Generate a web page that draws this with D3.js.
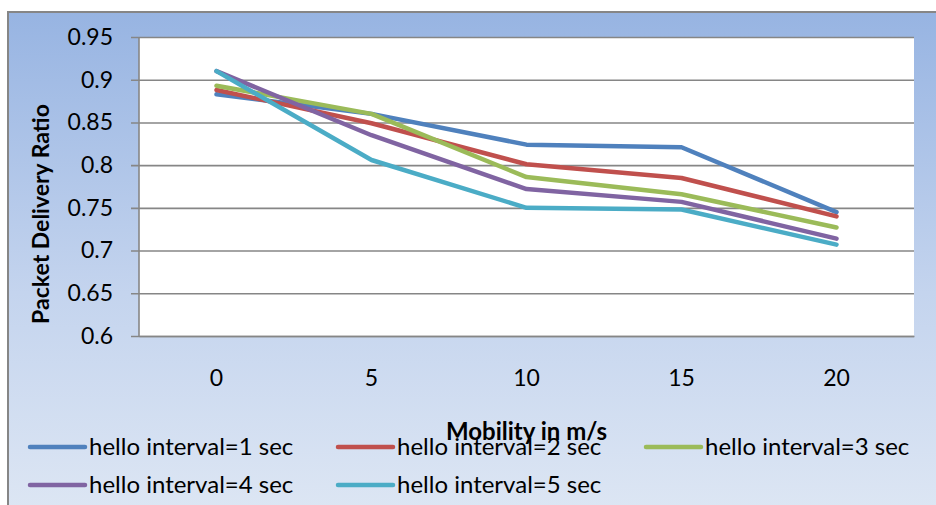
<!DOCTYPE html>
<html>
<head>
<meta charset="utf-8">
<script src="https://cdn.jsdelivr.net/npm/d3@7/dist/d3.min.js"></script>
<style>
  html, body { margin: 0; padding: 0; background: #ffffff; }
  svg { display: block; }
</style>
</head>
<body>
<svg id="chart" width="936" height="505"></svg>
<script>
// Mobility categories (m/s)
const categories = ["0", "5", "10", "15", "20"];

// Packet delivery ratio for each hello interval
const interval1 = [0.883, 0.860, 0.824, 0.821, 0.745];
const interval2 = [0.888, 0.849, 0.801, 0.785, 0.740];
const interval3 = [0.893, 0.860, 0.786, 0.766, 0.727];
const interval4 = [0.910, 0.835, 0.772, 0.757, 0.714];
const interval5 = [0.910, 0.806, 0.750, 0.748, 0.707];

const seriesNames = [
  "hello interval=1 sec",
  "hello interval=2 sec",
  "hello interval=3 sec",
  "hello interval=4 sec",
  "hello interval=5 sec"
];
const seriesColors = ["#4F81BD", "#C0504D", "#9BBB59", "#8064A2", "#4BACC6"];

// Y axis tick values
const yTicks = [0.6, 0.65, 0.7, 0.75, 0.8, 0.85, 0.9, 0.95];

const series = [interval1, interval2, interval3, interval4, interval5].map((vals, i) => ({
  name: seriesNames[i],
  color: seriesColors[i],
  values: vals
}));

const svg = d3.select("#chart");
const font = "Lato, 'Open Sans', sans-serif";

// Chart background with vertical gradient
const defs = svg.append("defs");
const grad = defs.append("linearGradient")
  .attr("id", "bg").attr("x1", 0).attr("y1", 0).attr("x2", 0).attr("y2", 1);
grad.append("stop").attr("offset", "0%").attr("stop-color", "#97B4E2");
grad.append("stop").attr("offset", "55%").attr("stop-color", "#C4D4EE");
grad.append("stop").attr("offset", "100%").attr("stop-color", "#DEE7F4");

svg.append("rect")
  .attr("x", 8).attr("y", 12)
  .attr("width", 940).attr("height", 510)
  .attr("fill", "url(#bg)")
  .attr("stroke", "#868686").attr("stroke-width", 2);

// Plot area
const plot = { left: 139, right: 914, top: 37, bottom: 336 };

const x = d3.scaleBand()
  .domain(categories)
  .range([plot.left, plot.right]);

const y = d3.scaleLinear()
  .domain([0.6, 0.95])
  .range([plot.bottom, plot.top]);

svg.append("rect")
  .attr("x", plot.left).attr("y", plot.top)
  .attr("width", plot.right - plot.left)
  .attr("height", plot.bottom - plot.top)
  .attr("fill", "#ffffff");

// Gridlines + left ticks via axis
const yAxis = d3.axisLeft(y)
  .tickValues(yTicks)
  .tickSize(-(plot.right - plot.left))
  .tickPadding(26)
  .tickFormat(d => d3.format("")(+d.toFixed(2)));

const yg = svg.append("g")
  .attr("transform", `translate(${plot.left},0)`)
  .call(yAxis);
yg.select(".domain").remove();
yg.selectAll(".tick line")
  .attr("x1", -8)
  .attr("stroke", "#868686").attr("stroke-width", 1.6);
yg.selectAll(".tick text")
  .attr("font-family", font).attr("font-size", 23)
  .attr("fill", "#000");

// Left axis line
svg.append("line")
  .attr("x1", plot.left).attr("x2", plot.left)
  .attr("y1", plot.top).attr("y2", plot.bottom)
  .attr("stroke", "#868686").attr("stroke-width", 1.6);

// Category axis
const xAxis = d3.axisBottom(x).tickSize(0).tickPadding(34);
const xg = svg.append("g")
  .attr("transform", `translate(0,${plot.bottom})`)
  .call(xAxis);
xg.select(".domain")
  .attr("stroke", "#868686").attr("stroke-width", 1.6);
xg.selectAll(".tick text")
  .attr("font-family", font).attr("font-size", 23)
  .attr("fill", "#000");

// Series lines
const line = d3.line()
  .x((d, i) => x(categories[i]) + x.bandwidth() / 2)
  .y(d => y(d));

svg.append("g").selectAll("path")
  .data(series)
  .join("path")
  .attr("d", d => line(d.values))
  .attr("fill", "none")
  .attr("stroke", d => d.color)
  .attr("stroke-width", 4.5)
  .attr("stroke-linejoin", "round")
  .attr("stroke-linecap", "round");

// Y axis title
svg.append("text")
  .attr("transform", `translate(49,${214}) rotate(-90)`)
  .attr("text-anchor", "middle")
  .attr("font-family", font).attr("font-weight", "bold").attr("font-size", 23)
  .text("Packet Delivery Ratio");

// Legend
const legendCols = [30, 338, 646];
const legendRows = [447, 485];
const legend = svg.append("g").selectAll("g")
  .data(series)
  .join("g")
  .attr("transform", (d, i) => `translate(${legendCols[i % 3]},${legendRows[Math.floor(i / 3)]})`);
legend.append("line")
  .attr("x1", 0).attr("x2", 55).attr("y1", 0).attr("y2", 0)
  .attr("stroke", d => d.color).attr("stroke-width", 4.5)
  .attr("stroke-linecap", "round");
legend.append("text")
  .attr("x", 59).attr("y", 0).attr("dy", "0.35em")
  .attr("font-family", font).attr("font-size", 24)
  .attr("fill", "#000")
  .text(d => d.name);

// X axis title (drawn over the legend, as laid out)
svg.append("text")
  .attr("x", (plot.left + plot.right) / 2).attr("y", 440)
  .attr("text-anchor", "middle")
  .attr("font-family", font).attr("font-weight", "bold").attr("font-size", 24)
  .text("Mobility in m/s");
</script>
</body>
</html>
